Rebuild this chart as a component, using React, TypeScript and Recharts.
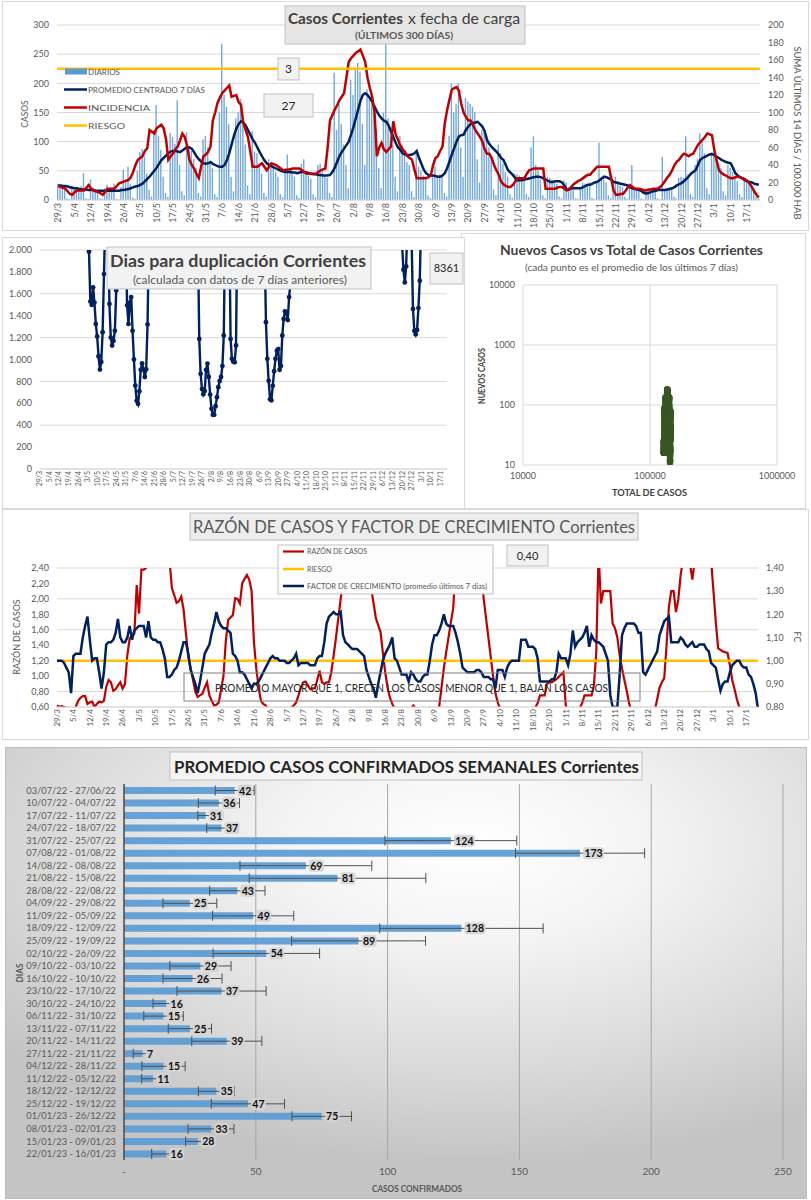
import React from 'react';
import {
  ComposedChart, LineChart, ScatterChart, BarChart, Bar, Line, Scatter,
  XAxis, YAxis, CartesianGrid, ReferenceLine, ErrorBar, LabelList,
} from 'recharts';

const FONT = 'Lato, "Liberation Sans", sans-serif';
const GRAY = '#595959';

// ---------- shared date tick labels (every 7 days, day 0 = 29/3) ----------
const tickLabels = ['29/3','5/4','12/4','19/4','26/4','3/5','10/5','17/5','24/5','31/5','7/6','14/6','21/6','28/6','5/7','12/7','19/7','26/7','2/8','9/8','16/8','23/8','30/8','6/9','13/9','20/9','27/9','4/10','11/10','18/10','25/10','1/11','8/11','15/11','22/11','29/11','6/12','13/12','20/12','27/12','3/1','10/1','17/1'];

// ---------- chart 1: casos diarios ----------
const diarios = [
28,27,26,21,3,1,25, 22,20,18,24,46,3,2, 35,22,18,16,3,2,20, 26,20,18,28,2,1,22,
52,30,57,28,4,2,50, 82,88,75,45,17,6,120, 163,110,86,40,12,5,115, 108,96,171,60,15,8,116,
92,84,70,55,12,6,104, 110,90,62,55,10,5,150, 268,180,160,130,40,15,140, 150,173,132,95,25,10,118,
83,80,62,45,12,6,70, 64,55,48,40,10,5,55, 78,55,50,40,8,4,62, 70,50,42,36,10,5,60,
62,50,40,38,12,5,218, 120,165,130,95,60,20,206, 180,226,235,220,130,60,190, 175,165,150,120,55,20,150,
268,140,120,95,40,15,110, 95,85,65,60,15,5,82, 57,50,42,38,8,4,40, 58,42,44,40,12,6,110,
200,150,165,200,90,40,175, 169,165,160,151,70,30,120, 115,110,90,72,18,8,95, 80,62,48,40,10,4,45,
44,42,38,40,10,5,90, 109,60,50,35,8,3,40, 38,35,30,28,6,3,34, 30,22,20,18,3,2,22,
30,28,24,30,4,2,32, 98,40,35,30,8,3,28, 40,32,25,22,5,2,28, 60,22,18,15,3,1,14,
20,18,15,14,3,1,74, 18,20,22,22,6,3,38, 40,38,109,44,10,5,60, 70,114,100,80,20,10,80,
75,70,62,55,15,8,60, 55,48,40,32,10,5,35, 30,28,25,20,6,3];

const promedio = [
25,25,24,24,23,22,21,20,20,19, 18,18,18,17,17,17,16,16,16,16,
16,16,16,16,16,16,16,17,17,18, 19,20,22,23,24,26,28,32,36,40,
45,50,55,62,68,72,76,80,83,84, 84,83,82,85,88,91,90,88,82,75,
70,66,63,62,63,65,62,60,58,57, 57,60,68,80,95,110,122,130,135,133,
128,120,112,104,98,90,82,75,68,63, 60,58,56,54,52,50,49,48,48,48,
47,47,46,47,48,48,47,46,45,44, 44,43,43,42,42,42,43,48,55,65,
75,82,88,94,100,112,125,140,155,170, 180,183,180,175,168,160,152,145,140,136,
134,128,118,108,98,90,86,80,78,77, 77,78,80,84,72,62,52,46,43,42,
42,41,40,40,42,46,55,66,78,89, 100,109,111,112,120,126,130,132,133,134,
130,126,118,103,96,91,87,83,78,72, 69,60,51,47,43,38,34,34,34,35,
36,37,38,39,40,40,39,37,35,33, 31,31,32,32,32,30,25,17,18,20,
20,20,20,20,22,24,26,26,28,30, 31,34,37,40,39,37,35,31,30,29,
28,27,26,25,22,20,19,18,17,15, 12,11,12,14,15,16,17,17,17,17,
18,19,20,22,25,27,29,32,36,40, 45,48,51,60,69,72,74,76,78,79,
77,74,72,69,67,65,64,63,55,46, 42,39,37,34,32,31,30,28,27,26];

const incidencia = [
16,15,14,13,10,7,6,9,11,11, 11,11,14,17,13,11,10,9,8,6,
9,13,13,13,13,16,19,20,21,22, 23,26,32,40,46,48,50,56,59,80,
78,76,82,84,86,82,70,46,50,53, 58,61,68,76,72,62,46,40,36,30,
25,38,50,52,55,61,91,100,111,117, 122,125,128,131,118,119,120,112,109,88,
80,72,55,38,38,38,40,42,38,34, 38,42,41,40,38,36,34,34,35,35,
36,36,36,36,34,32,30,30,30,30, 30,32,34,35,36,60,91,97,103,108,
114,118,122,140,158,162,165,168,170,172, 165,158,140,128,118,100,50,60,65,58,
55,58,61,90,75,69,62,58,55,50, 48,46,35,25,25,25,25,25,26,28,
40,48,50,56,61,88,103,115,126,128, 129,125,110,100,95,91,91,86,80,76,
72,67,58,53,53,48,40,34,29,21, 18,16,15,15,17,21,25,25,25,25,
30,34,35,36,36,36,36,36,13,13, 13,13,13,14,15,15,13,11,12,15,
18,20,22,23,25,27,29,29,32,35, 38,38,38,38,38,38,25,11,6,6,
7,7,10,14,17,15,13,13,13,12, 11,11,12,12,13,13,13,15,18,22,
26,29,34,40,44,46,50,53,52,50, 52,53,58,63,66,69,72,76,75,74,
57,45,34,31,29,28,26,25,25,26, 27,26,25,24,22,19,15,10,6,3];

const RIESGO_INC = 150;
const CAJA_INCIDENCIA = '3';
const CAJA_PROMEDIO = '27';

// ---------- chart 2: días para duplicación ----------
const duplicacion = [
3600,3700,3800,3900,4000,4100,4300,4500,4600,4800, 5000,5100,5200,5300,5400,5400,5500,5500,5600,5600,
5600,5600,5500,5500,5400,5300,5200,5000,4800,4500, 4200,3800,3400,3000,2700,2400,1985,1529,1498,1659,
1520,1325,1211,1030,908,977,1250,1780,2300,2600, 2300,1507,1200,1128,1170,1262,1629,2200,2500,2800,
2900,2700,2400,2100,1495,1325,1520,1570,1262,1000, 762,623,595,710,906,965,910,840,910,1320,
2100,2600,3000,3300,3500,3700,3900,4100,4300,4500, 4600,4700,4800,4800,4900,4900,5000,5000,5000,5000,
5000,5000,5000,4900,4800,4700,4600,4400,4200,4000, 3700,3400,3100,2800,2500,2300,2100,1188,869,730,
683,712,906,963,840,680,550,495,495,574, 656,747,804,840,940,1219,2200,2600,2400,2300,
1188,1006,980,975,1128,2300,2700,3000,3200,3300, 3400,3400,3300,3200,3100,3000,2900,2800,2700,2600,
2500,2400,2300,2200,2100,2050,1340,1006,805,638, 628,760,893,1006,1080,1095,906,940,1219,1370,
1440,1430,1360,1570,1700,2200,2600,3000,3400,3800, 4200,4600,5000,5400,5800,6000,6200,6300,6300,6200,
6000,5800,5600,5500,5400,5400,5500,5600,5800,6000, 6200,6400,6600,6800,7000,7400,7800,8200,8600,9000,
9200,9400,9400,9200,9000,8600,8200,7800,7400,7000, 6600,6200,6000,6000,6200,6400,6800,7200,7600,8000,
8400,8800,9200,9600,10000,10400,10800,11200,11600,12000, 12400,12600,12400,12000,11000,10000,9000,8000,7000,6000,
5000,4200,3500,2900,2500,2200,2050,1820,1704,1850, 2300,2600,2400,2100,1461,1262,1230,1270,1470,1720,
2300,2700,3100,3500,3900,4300,4700,5100,5500,5900, 6300,6700,7000,7300,7600,7800,8000,8100,8250,8361];
const ULTIMA_DUPLICACION = '8361';

// ---------- chart 2b: scatter ----------
const TOTAL_BASE = 128500;

// ---------- chart 3: razón de casos y factor de crecimiento ----------
const razon = [
0.62,0.60,0.61,0.60,0.59,0.58,0.56,0.55,0.60,0.68, 0.72,0.74,0.74,0.64,0.66,0.67,0.60,0.64,0.67,0.66,
0.68,0.86,0.95,0.92,0.81,0.83,0.88,0.92,0.84,0.90, 1.27,1.49,1.52,1.55,2.18,1.81,2.38,2.38,2.40,2.80,
3.10,3.30,3.20,3.00,2.90,2.80,2.70,2.60,2.50,2.14, 2.05,1.95,1.97,2.03,1.86,1.55,1.25,1.10,0.95,0.80,
0.73,0.75,0.77,0.85,0.92,0.75,0.68,0.62,0.63,0.66, 0.83,1.00,1.45,1.73,1.76,1.79,2.01,2.00,1.94,2.20,
2.26,2.31,2.25,2.10,1.44,1.10,0.85,0.68,0.64,0.62, 0.55,0.50,0.48,0.45,0.44,0.45,0.47,0.50,0.53,0.56,
0.59,0.62,0.66,0.75,0.85,0.92,0.93,0.88,0.83,0.84, 0.84,0.95,1.07,0.92,0.90,0.92,0.92,1.05,1.27,1.50,
1.75,2.00,2.23,2.35,2.60,2.90,3.10,3.00,2.90,2.80, 2.70,2.60,2.50,2.45,2.14,1.95,1.75,1.66,1.57,1.30,
1.05,0.85,0.72,0.64,0.58,0.55,0.52,0.50,0.50,0.52, 0.55,0.58,0.62,0.58,0.52,0.48,0.45,0.42,0.40,0.42,
0.45,0.50,0.56,0.60,0.85,1.10,1.31,1.50,1.70,1.88, 2.40,2.70,3.00,3.20,3.30,3.20,3.10,3.00,2.80,2.60,
2.50,2.36,2.00,1.75,1.50,1.25,1.00,0.78,0.66,0.58, 0.52,0.48,0.45,0.43,0.42,0.42,0.44,0.45,0.47,0.50,
0.52,0.54,0.56,0.58,0.59,0.65,0.75,0.75,0.75,0.90, 0.92,0.92,0.94,0.96,0.99,1.02,1.05,0.62,0.55,0.50,
0.48,0.50,0.55,0.59,0.65,0.75,0.75,0.75,0.75,0.88, 1.30,2.60,1.94,2.10,2.10,2.10,2.10,1.68,1.62,1.50,
1.27,1.10,0.95,0.81,0.65,0.55,0.50,0.46,0.43,0.40, 0.38,0.40,0.42,0.46,0.50,0.56,0.70,0.85,0.92,0.97,
1.40,1.90,2.10,2.10,1.83,1.99,2.31,2.50,2.80,2.70, 2.45,2.25,2.50,2.90,3.20,3.40,3.30,3.00,2.80,2.50,
2.10,1.70,1.36,1.34,1.32,1.31,1.30,1.14,0.95,0.83, 0.70,0.60,0.55,0.52,0.50,0.48,0.46,0.44,0.42,0.40];

const factor = [
1.00,1.00,1.00,0.99,0.97,0.95,0.86,1.02,1.03,1.03, 1.03,1.10,1.15,1.19,1.09,1.00,1.01,1.01,0.95,0.88,
0.95,1.07,1.08,1.08,1.09,1.12,1.18,1.10,1.08,1.08, 1.10,1.15,1.09,1.13,1.14,1.15,1.15,1.15,1.10,1.17,
1.10,1.09,1.09,1.08,1.08,1.05,1.01,0.93,0.93,0.94, 0.96,0.97,1.00,1.04,1.08,1.08,1.03,0.96,0.93,0.90,
0.86,0.91,0.97,1.03,1.05,1.07,1.12,1.16,1.21,1.17, 1.15,1.14,1.14,1.13,1.12,1.03,1.02,1.00,0.95,0.95,
0.94,0.92,0.90,0.88,0.90,0.90,0.91,0.93,0.95,0.97, 0.99,1.01,1.02,1.01,1.01,1.00,1.00,1.00,0.99,0.99,
1.00,1.01,1.03,0.98,0.99,0.99,0.99,0.99,0.98,0.98, 0.98,1.01,1.02,1.02,1.08,1.16,1.19,1.20,1.21,1.20,
1.20,1.21,1.11,1.08,1.07,1.06,1.05,1.05,1.05,1.04, 1.03,1.02,0.96,0.93,0.90,0.88,0.84,0.90,0.95,1.00,
1.03,1.05,1.07,1.10,1.01,1.00,0.97,0.94,0.94,0.94, 0.91,0.95,0.94,0.92,0.91,0.91,0.93,0.94,0.94,1.00,
1.07,1.11,1.11,1.13,1.16,1.20,1.16,1.15,1.15,1.15, 1.12,1.08,1.03,0.97,0.96,0.95,0.95,0.95,0.95,0.96,
0.96,0.95,0.93,0.93,0.93,0.92,0.92,0.88,0.96,0.96, 0.96,0.93,0.97,0.99,1.00,1.00,1.00,1.00,1.09,1.09,
1.09,1.06,1.06,1.06,1.05,1.01,0.91,0.91,0.91,0.91, 0.91,0.92,0.92,0.95,1.03,1.01,1.01,1.01,0.98,1.03,
1.13,1.06,1.08,1.09,1.10,1.12,1.15,1.06,1.11,1.09, 1.08,1.08,1.07,1.06,1.03,1.00,0.85,0.80,0.80,0.80,
0.94,1.11,1.14,1.16,1.16,1.16,1.16,1.15,1.12,1.12, 0.95,0.94,0.96,0.98,1.00,1.02,1.04,1.11,1.14,1.17,
1.18,1.19,1.08,1.08,1.08,1.08,1.10,1.09,1.07,1.06, 1.07,1.08,1.06,1.06,1.07,1.07,1.07,1.05,1.04,0.99,
0.98,0.97,0.92,0.87,0.90,0.91,0.91,0.95,0.98,0.99, 1.00,1.00,0.98,0.97,0.97,0.94,0.93,0.90,0.86,0.79];

const RIESGO_RAZON = 1.2;
const ULTIMA_RAZON = '0,40';

// ---------- chart 4: promedio semanal ----------
const semanas = ['03/07/22 - 27/06/22','10/07/22 - 04/07/22','17/07/22 - 11/07/22','24/07/22 - 18/07/22','31/07/22 - 25/07/22','07/08/22 - 01/08/22','14/08/22 - 08/08/22','21/08/22 - 15/08/22','28/08/22 - 22/08/22','04/09/22 - 29/08/22','11/09/22 - 05/09/22','18/09/22 - 12/09/22','25/09/22 - 19/09/22','02/10/22 - 26/09/22','09/10/22 - 03/10/22','16/10/22 - 10/10/22','23/10/22 - 17/10/22','30/10/22 - 24/10/22','06/11/22 - 31/10/22','13/11/22 - 07/11/22','20/11/22 - 14/11/22','27/11/22 - 21/11/22','04/12/22 - 28/11/22','11/12/22 - 05/12/22','18/12/22 - 12/12/22','25/12/22 - 19/12/22','01/01/23 - 26/12/22','08/01/23 - 02/01/23','15/01/23 - 09/01/23','22/01/23 - 16/01/23'];
const promSemanal = [42,36,31,37,124,173,69,81,43,25,49,128,89,54,29,26,37,16,15,25,39,7,15,11,35,47,75,33,28,16];
const errSemanal = [7.4,7.8,3,5.6,25,24.5,25,33.5,10.5,10.2,15.4,31,25.4,20.2,11.6,11.2,16.9,5,7.5,8.2,13.3,3.5,8.2,4.3,6.8,13.9,11.3,8.7,4.6,5.5];

// ---------- tables built from the arrays ----------
const topData = diarios.map((v, i) => ({ i, diarios: v, prom: promedio[i], inc: incidencia[i] }));
const dupData = duplicacion.map((v, i) => ({ i, v }));
const rfData = razon.map((v, i) => ({ i, razon: v, fc: factor[i] }));
const scatterData = (() => {
  let cum = TOTAL_BASE;
  return diarios.map((v, i) => { cum += v; return { x: cum, y: promedio[i] }; });
})();
const weekData = semanas.map((s, k) => ({ sem: s, v: promSemanal[k], err: errSemanal[k] }));

const comma2 = (v: number) => v.toFixed(2).replace('.', ',');
const thousand = (v: number) => (v >= 1000 ? `${Math.floor(v / 1000)}.${String(v % 1000).padStart(3, '0')}` : String(v));

const DateTick = (props: any) => {
  const { x, y, payload, fs } = props;
  const i = Number(payload.value);
  const lbl = i % 7 === 0 ? tickLabels[i / 7] : '';
  return (
    <text x={x} y={y} transform={`rotate(-90, ${x}, ${y})`} textAnchor="end" dy={fs * 0.35}
      fontSize={fs} fill={GRAY} fontFamily={FONT}>{lbl}</text>
  );
};

const WeekTick = (props: any) => {
  const { x, y, payload } = props;
  return (
    <text x={x} y={y} dy={3.3} textAnchor="end" fontSize={9.3} fill={GRAY} fontFamily={FONT}>{payload.value}</text>
  );
};

const BarLabel = (p: any) => {
  const { x, y, width, height, value } = p;
  const s = String(Math.round(Number(value)));
  const w = s.length * 6 + 3;
  const bx = x + width + 3;
  const cy = y + height / 2;
  return (
    <g>
      <rect x={bx} y={cy - 6} width={w} height={12} rx={3} fill="#D4D4D4" fillOpacity={0.9} />
      <text x={bx + w / 2} y={cy + 4} textAnchor="middle" fontSize={10.5} fontWeight="bold" fill="#111" fontFamily={FONT}>{s}</text>
    </g>
  );
};

const tickStyle = (fs: number) => ({ fontSize: fs, fill: GRAY, fontFamily: FONT });

const T = (p: any) => {
  const { x, y, len, children, size = 9, weight = 'normal', color = GRAY, anchor = 'start', rot } = p;
  return (
    <text x={x} y={y} fontSize={size} fontWeight={weight} fill={color} textAnchor={anchor}
      fontFamily={FONT} textLength={len} lengthAdjust={len ? 'spacingAndGlyphs' : undefined}
      transform={rot ? `rotate(${rot}, ${x}, ${y})` : undefined}>{children}</text>
  );
};

const panel = (l: number, t: number, w: number, h: number, extra: any = {}) => ({
  position: 'absolute' as const, left: l, top: t, width: w, height: h, boxSizing: 'border-box' as const,
  border: '1px solid #D9D9D9', background: '#FFFFFF', ...extra,
});

export default function App() {
  return (
    <div style={{ position: 'absolute', left: 0, top: 0, width: 811, height: 1200, background: '#FFFFFF', fontFamily: FONT, overflow: 'hidden' }}>
      {/* panels */}
      <div style={panel(2, 1, 807, 230)} />
      <div style={panel(461, 233, 345, 276)} />
      <div style={panel(2, 237, 463, 272)} />
      <div style={panel(2, 509, 807, 231)} />
      <div style={panel(5, 747, 802, 452, {
        border: '1px solid #BFBFBF',
        background: 'radial-gradient(ellipse 75% 70% at 58% 22%, #FFFFFF 0%, #F4F4F4 30%, #DADADA 70%, #C4C4C4 100%)',
      })} />

      {/* chart 1 */}
      <div style={{ position: 'absolute', left: 0, top: 0 }}>
        <ComposedChart width={811} height={231} data={topData} margin={{ top: 25, right: 0, bottom: 0, left: 0 }}>
          <CartesianGrid yAxisId="l" vertical={false} stroke="#D9D9D9" />
          <XAxis dataKey="i" type="category" interval={6} height={31} tickSize={0} tickMargin={3}
            tick={<DateTick fs={9} />} tickLine={false} axisLine={{ stroke: '#D9D9D9' }} />
          <YAxis yAxisId="l" domain={[0, 300]} ticks={[0, 50, 100, 150, 200, 250, 300]} width={57}
            axisLine={false} tickLine={false} tick={tickStyle(9)} />
          <YAxis yAxisId="r" orientation="right" domain={[0, 200]} ticks={[0, 20, 40, 60, 80, 100, 120, 140, 160, 180, 200]}
            width={51} axisLine={false} tickLine={false} tick={tickStyle(9)} />
          <Bar yAxisId="l" dataKey="diarios" fill="#72A8DC" barSize={1.4} isAnimationActive={false} />
          <Line yAxisId="l" dataKey="prom" stroke="#002060" strokeWidth={2.5} dot={false} isAnimationActive={false} />
          <Line yAxisId="r" dataKey="inc" stroke="#C00000" strokeWidth={2.5} dot={false} isAnimationActive={false} />
          <ReferenceLine yAxisId="r" y={RIESGO_INC} stroke="#FFC000" strokeWidth={2.5} />
        </ComposedChart>
      </div>

      {/* chart 2 right: scatter */}
      <div style={{ position: 'absolute', left: 461, top: 233 }}>
        <ScatterChart width={345} height={276} margin={{ top: 52, right: 29, bottom: 0, left: 0 }}>
          <CartesianGrid stroke="#D9D9D9" />
          <XAxis dataKey="x" type="number" scale="log" domain={[10000, 1000000]} ticks={[10000, 100000, 1000000]}
            allowDataOverflow height={44} axisLine={false} tickLine={false} tick={tickStyle(9)} />
          <YAxis dataKey="y" type="number" scale="log" domain={[10, 10000]} ticks={[10, 100, 1000, 10000]}
            allowDataOverflow width={62} axisLine={false} tickLine={false} tick={tickStyle(9)} />
          <Scatter data={scatterData} isAnimationActive={false}
            shape={(p: any) => <circle cx={p.cx} cy={p.cy} r={3.3} fill="#375623" />} />
        </ScatterChart>
      </div>

      {/* chart 2 left: doubling days */}
      <div style={{ position: 'absolute', left: 0, top: 237 }}>
        <LineChart width={466} height={272} data={dupData} margin={{ top: 13, right: 19, bottom: 0, left: 0 }}>
          <CartesianGrid vertical={false} stroke="#D9D9D9" />
          <XAxis dataKey="i" type="category" interval={6} height={40} tickSize={0} tickMargin={2}
            tick={<DateTick fs={7} />} tickLine={false} axisLine={{ stroke: '#D9D9D9' }} />
          <YAxis domain={[0, 2000]} allowDataOverflow ticks={[0, 200, 400, 600, 800, 1000, 1200, 1400, 1600, 1800, 2000]}
            tickFormatter={thousand} width={40} axisLine={false} tickLine={false} tick={tickStyle(9)} />
          <Line dataKey="v" stroke="#002060" strokeWidth={2.4} isAnimationActive={false}
            dot={{ r: 2.4, fill: '#002060', stroke: '#002060', strokeWidth: 0 }} />
        </LineChart>
      </div>

      {/* chart 3 */}
      <div style={{ position: 'absolute', left: 0, top: 509 }}>
        <ComposedChart width={811} height={231} data={rfData} margin={{ top: 59, right: 0, bottom: 0, left: 0 }}>
          <CartesianGrid yAxisId="l" vertical={false} stroke="#D9D9D9" />
          <XAxis dataKey="i" type="category" interval={6} height={33} tickSize={0} tickMargin={2}
            tick={<DateTick fs={8} />} tickLine={false} axisLine={{ stroke: '#D9D9D9' }} />
          <YAxis yAxisId="l" domain={[0.6, 2.4]} allowDataOverflow ticks={[0.6, 0.8, 1.0, 1.2, 1.4, 1.6, 1.8, 2.0, 2.2, 2.4]}
            tickFormatter={comma2} width={57} axisLine={false} tickLine={false} tick={tickStyle(9)} />
          <YAxis yAxisId="r" orientation="right" domain={[0.8, 1.4]} allowDataOverflow ticks={[0.8, 0.9, 1.0, 1.1, 1.2, 1.3, 1.4]}
            tickFormatter={comma2} width={53} axisLine={false} tickLine={false} tick={tickStyle(9)} />
          <Line yAxisId="l" dataKey="razon" stroke="#C00000" strokeWidth={2.2} dot={false} isAnimationActive={false} />
          <ReferenceLine yAxisId="l" y={RIESGO_RAZON} stroke="#FFC000" strokeWidth={2.5} />
          <Line yAxisId="r" dataKey="fc" stroke="#002060" strokeWidth={2.5} dot={false} isAnimationActive={false} />
        </ComposedChart>
      </div>

      {/* chart 4 */}
      <div style={{ position: 'absolute', left: 0, top: 745 }}>
        <BarChart width={811} height={455} data={weekData} layout="vertical" margin={{ top: 39, right: 28, bottom: 0, left: 0 }}>
          <CartesianGrid horizontal={false} stroke="#A6A6A6" />
          <XAxis type="number" domain={[0, 250]} ticks={[0, 50, 100, 150, 200, 250]} height={40}
            tickFormatter={(v: number) => (v === 0 ? '-' : String(v))} axisLine={false} tickLine={false} tick={tickStyle(10)} />
          <YAxis type="category" dataKey="sem" width={124} interval={0} axisLine={{ stroke: '#404040', strokeWidth: 1.3 }}
            tickLine={false} tick={<WeekTick />} />
          <Bar dataKey="v" fill="#5B9BD5" fillOpacity={0.92} barSize={7} isAnimationActive={false}>
            <ErrorBar dataKey="err" direction="x" width={5} stroke="#505050" strokeWidth={1} />
            <LabelList dataKey="v" content={<BarLabel />} />
          </Bar>
        </BarChart>
      </div>

      {/* annotations */}
      <svg width={811} height={1200} style={{ position: 'absolute', left: 0, top: 0, pointerEvents: 'none' }}>
        {/* chart 1 */}
        <rect x={285} y={6} width={240} height={38} fill="#E6E6E6" stroke="#BFBFBF" />
        <T x={288} y={24} len={115} size={16} weight="bold" color="#404040">Casos Corrientes</T>
        <T x={408} y={24} len={112} size={16} color="#404040">x fecha de carga</T>
        <T x={355} y={39} len={98} size={9} weight="bold" color={GRAY}>(ÚLTIMOS 300 DÍAS)</T>
        <rect x={65} y={68.5} width={22} height={6} fill="#5B9BD5" />
        <T x={88} y={74.5} len={32} size={8}>DIARIOS</T>
        <line x1={64} x2={87} y1={89.5} y2={89.5} stroke="#002060" strokeWidth={2.5} />
        <T x={88} y={92.5} len={117} size={8}>PROMEDIO CENTRADO 7 DÍAS</T>
        <line x1={64} x2={87} y1={107.5} y2={107.5} stroke="#C00000" strokeWidth={2.5} />
        <T x={88} y={110.5} len={62} size={8}>INCIDENCIA</T>
        <line x1={64} x2={87} y1={125.5} y2={125.5} stroke="#FFC000" strokeWidth={2.5} />
        <T x={88} y={128.5} len={37} size={8}>RIESGO</T>
        <rect x={278} y={58} width={21} height={22} fill="#F2F2F2" stroke="#BFBFBF" />
        <T x={288.5} y={73} size={12} anchor="middle" color="#262626">{CAJA_INCIDENCIA}</T>
        <rect x={264} y={94} width={49} height={23} fill="#F2F2F2" stroke="#BFBFBF" />
        <T x={288.5} y={110} size={12} anchor="middle" color="#262626">{CAJA_PROMEDIO}</T>
        <T x={28} y={114} size={8.5} anchor="middle" rot={-90}>CASOS</T>
        <T x={794} y={133} size={9.5} anchor="middle" len={173} rot={90}>SUMA  ÚLTIMOS 14 DÍAS / 100.000 HAB</T>

        {/* chart 2 left */}
        <rect x={107} y={247} width={264} height={42} fill="#F2F2F2" stroke="#BFBFBF" />
        <T x={110} y={267} len={256} size={17} weight="bold" color="#404040">Dias para duplicación Corrientes</T>
        <T x={133} y={284} len={214} size={11} color={GRAY}>(calculada con datos de 7 días anteriores)</T>
        <rect x={430} y={253} width={33} height={31} fill="#F2F2F2" stroke="#BFBFBF" />
        <T x={446.5} y={272} size={11} anchor="middle" color="#262626">{ULTIMA_DUPLICACION}</T>

        {/* chart 2 right */}
        <T x={500} y={255} len={263} size={13} weight="bold" color="#404040">Nuevos Casos vs Total de Casos Corrientes</T>
        <T x={525} y={271} len={213} size={9.5} color={GRAY}>(cada punto es el promedio de los últimos 7 días)</T>
        <T x={485} y={376} len={56} size={9} weight="bold" anchor="middle" rot={-90} color="#404040">NUEVOS CASOS</T>
        <T x={612} y={496} len={75} size={9} weight="bold" color="#404040">TOTAL DE CASOS</T>

        {/* chart 3 */}
        <rect x={190} y={513} width={448} height={27} fill="#EDEDED" stroke="#BFBFBF" />
        <T x={193} y={533} len={442} size={18} color={GRAY}>RAZÓN DE CASOS Y FACTOR DE CRECIMIENTO Corrientes</T>
        <rect x={278} y={545} width={215} height={49} fill="#FCFCFC" stroke="#BFBFBF" />
        <line x1={283} x2={304} y1={551.5} y2={551.5} stroke="#C00000" strokeWidth={2.2} />
        <T x={307} y={554} len={60} size={7}>RAZÓN DE CASOS</T>
        <line x1={283} x2={304} y1={569} y2={569} stroke="#FFC000" strokeWidth={2.5} />
        <T x={307} y={571.5} len={25} size={7}>RIESGO</T>
        <line x1={283} x2={304} y1={586} y2={586} stroke="#002060" strokeWidth={2.5} />
        <T x={307} y={588.5} len={180} size={7}>FACTOR DE CRECIMIENTO (promedio últimos 7 días)</T>
        <rect x={507} y={545} width={41} height={21} fill="#F2F2F2" stroke="#BFBFBF" />
        <T x={527.5} y={559.5} size={11} anchor="middle" color="#262626">{ULTIMA_RAZON}</T>
        <rect x={184} y={673} width={456} height={28} fill="none" stroke="#7F7F7F" />
        <T x={215} y={691.5} len={393} size={12} color="#262626">PROMEDIO MAYOR QUE 1, CRECEN LOS CASOS, MENOR QUE 1, BAJAN LOS CASOS</T>
        <T x={20} y={637} len={75} size={9} anchor="middle" rot={-90}>RAZÓN DE CASOS</T>
        <T x={794} y={637} size={9} anchor="middle" rot={90}>FC</T>

        {/* chart 4 */}
        <rect x={170} y={752} width={472} height={28} fill="#F5F5F5" stroke="#BFBFBF" />
        <T x={174} y={773} len={465} size={17} weight="bold" color="#262626">PROMEDIO CASOS CONFIRMADOS SEMANALES Corrientes</T>
        <T x={23} y={973} len={19} size={8.5} weight="bold" anchor="middle" rot={-90}>DIAS</T>
        <T x={372} y={1192} len={90} size={9} weight="bold">CASOS CONFIRMADOS</T>
      </svg>
    </div>
  );
}
